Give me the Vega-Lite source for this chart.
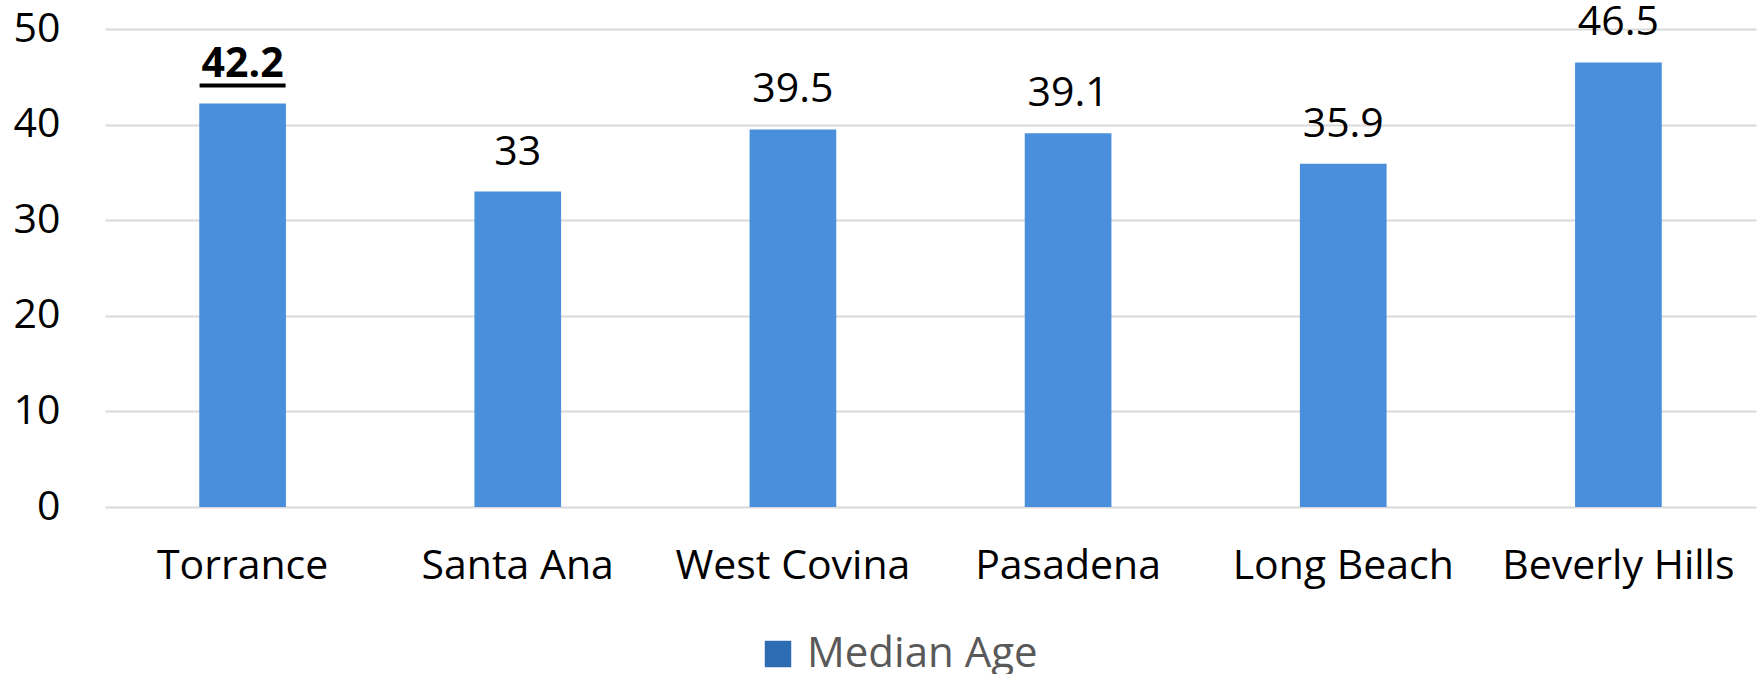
{
  "$schema": "https://vega.github.io/schema/vega-lite/v6.json",
  "autosize": "none",
  "width": 1651,
  "height": 478,
  "padding": {"left": 105, "top": 29, "right": 6, "bottom": 167},
  "background": "white",
  "config": {"view": {"stroke": null}, "font": "Open Sans"},
  "data": {"values": [
    {"city": "Torrance", "age": 42.2, "series": "Median Age"},
    {"city": "Santa Ana", "age": 33, "series": "Median Age"},
    {"city": "West Covina", "age": 39.5, "series": "Median Age"},
    {"city": "Pasadena", "age": 39.1, "series": "Median Age"},
    {"city": "Long Beach", "age": 35.9, "series": "Median Age"},
    {"city": "Beverly Hills", "age": 46.5, "series": "Median Age"}
  ]},
  "encoding": {
    "x": {"field": "city", "type": "nominal", "sort": null,
      "scale": {"paddingInner": 0.685, "paddingOuter": 0.3425},
      "axis": {"title": null, "labelAngle": 0, "labelFont": "Open Sans", "labelFontSize": 41, "labelColor": "#000000", "labelPadding": 39, "labelLimit": 400, "ticks": false, "domain": false}},
    "y": {"field": "age", "type": "quantitative",
      "scale": {"domain": [0, 50]},
      "axis": {"title": null, "values": [0, 10, 20, 30, 40, 50], "labelFont": "Open Sans", "labelFontSize": 41, "labelColor": "#000000", "labelPadding": 45, "ticks": false, "domain": false, "gridColor": "#d9d9d9", "gridWidth": 2}}
  },
  "layer": [
    {
      "mark": {"type": "bar", "color": "#4a8fdb"}
    },
    {
      "mark": {"type": "point", "shape": "square", "filled": true, "opacity": 0, "size": 1},
      "encoding": {
        "color": {"field": "series", "type": "nominal", "scale": {"range": ["#2e6db4"]},
          "legend": {"title": null, "orient": "none", "legendX": 652, "legendY": 604, "direction": "horizontal",
            "symbolType": "square", "symbolSize": 700, "symbolStrokeWidth": 0, "symbolOpacity": 1, "symbolFillColor": "#2e6db4",
            "labelFontSize": 42, "labelFont": "Open Sans", "labelColor": "#595959", "labelOffset": 8, "labelLimit": 400, "padding": 0}}
      }
    },
    {
      "transform": [{"filter": "datum.city !== 'Torrance'"}],
      "mark": {"type": "text", "baseline": "alphabetic", "dy": -27, "fontSize": 41, "font": "Open Sans", "color": "#000000"},
      "encoding": {
        "text": {"field": "age", "type": "quantitative"}
      }
    },
    {
      "transform": [{"filter": "datum.city === 'Torrance'"}],
      "mark": {"type": "text", "baseline": "alphabetic", "dy": -27, "fontSize": 41, "font": "Open Sans", "fontWeight": "bold", "color": "#000000"},
      "encoding": {
        "text": {"field": "age", "type": "quantitative"}
      }
    },
    {
      "transform": [{"filter": "datum.city === 'Torrance'"}],
      "mark": {"type": "tick", "color": "#000000", "opacity": 1, "thickness": 4, "size": 86, "yOffset": -18},
      "encoding": {}
    }
  ]
}
